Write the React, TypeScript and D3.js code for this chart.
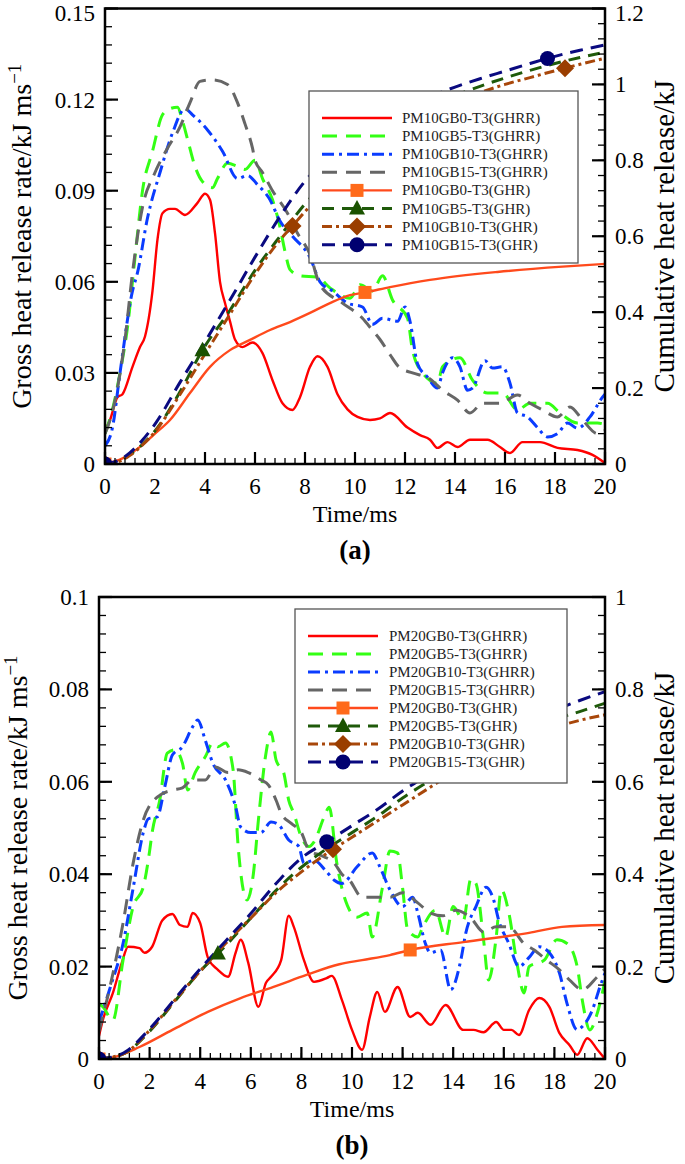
import React from "react";
import * as d3 from "d3";

type P = [number, number];

// ---------- Panel (a): PM10 ----------
const a_rateGB0: P[] = [[0,0.011],[0.2,0.0145],[0.5,0.022],[0.7,0.023],[1.1,0.032],[1.4,0.0385],[1.6,0.042],[1.9,0.057],[2.1,0.074],[2.3,0.0826],[2.6,0.084],[2.8,0.084],[3.2,0.082],[3.7,0.086],[4.0,0.089],[4.2,0.087],[4.4,0.076],[4.6,0.06],[4.8,0.053],[5.0,0.047],[5.2,0.041],[5.5,0.0385],[5.9,0.040],[6.3,0.0365],[6.7,0.0276],[7.1,0.02],[7.5,0.0178],[7.8,0.022],[8.2,0.032],[8.5,0.0355],[8.9,0.032],[9.3,0.023],[9.7,0.018],[10.1,0.0155],[10.6,0.0145],[11.0,0.015],[11.4,0.0168],[12.1,0.012],[12.6,0.0095],[13.0,0.008],[13.3,0.0053],[13.7,0.0072],[14.1,0.0056],[14.6,0.008],[15.3,0.008],[15.8,0.0056],[16.2,0.0036],[16.7,0.0072],[17.4,0.0072],[18.1,0.0053],[18.9,0.0046],[19.5,0.003],[20,0.0003]];
const a_rateGB5: P[] = [[0,0.01],[0.3,0.018],[0.6,0.03],[0.9,0.045],[1.2,0.068],[1.5,0.09],[1.9,0.103],[2.3,0.115],[2.6,0.117],[2.9,0.1175],[3.1,0.113],[3.3,0.107],[3.6,0.098],[3.9,0.093],[4.3,0.091],[4.5,0.094],[4.9,0.099],[5.3,0.098],[5.6,0.097],[6.0,0.1],[6.3,0.094],[6.7,0.087],[7.0,0.078],[7.2,0.07],[7.4,0.064],[7.8,0.062],[8.5,0.0615],[9.0,0.058],[9.8,0.0546],[10.2,0.059],[10.7,0.057],[11.1,0.062],[11.5,0.054],[12.1,0.048],[12.3,0.0375],[12.7,0.030],[13.3,0.0266],[13.5,0.032],[14.2,0.035],[14.7,0.0276],[15.3,0.0234],[15.9,0.0234],[16.5,0.0178],[17.0,0.020],[17.7,0.020],[18.2,0.0168],[18.9,0.0135],[19.7,0.0135],[20,0.013]];
const a_rateGB10: P[] = [[0,0.006],[0.3,0.012],[0.6,0.03],[1.1,0.057],[1.3,0.063],[1.7,0.081],[2.2,0.096],[2.7,0.109],[3.2,0.117],[3.5,0.115],[4.1,0.11],[4.7,0.103],[5.3,0.094],[5.7,0.095],[6.1,0.092],[6.6,0.087],[7.0,0.08],[7.5,0.075],[8.2,0.068],[8.6,0.06],[9.1,0.057],[9.7,0.053],[10.3,0.0517],[10.7,0.046],[11.1,0.048],[11.7,0.047],[12.0,0.0517],[12.2,0.047],[12.5,0.033],[12.9,0.0286],[13.3,0.025],[13.5,0.030],[13.9,0.035],[14.2,0.032],[14.5,0.0243],[14.7,0.025],[15.2,0.034],[15.5,0.0316],[15.9,0.032],[16.2,0.0266],[16.5,0.0168],[16.9,0.0155],[17.3,0.012],[17.7,0.0089],[18.1,0.010],[18.5,0.0135],[18.9,0.0118],[19.4,0.0155],[19.9,0.022],[20,0.023]];
const a_rateGB15: P[] = [[0,0.01],[0.1,0.012],[0.5,0.025],[0.8,0.041],[1.1,0.063],[1.5,0.0846],[2.0,0.096],[2.5,0.104],[3.0,0.111],[3.4,0.119],[3.8,0.126],[4.3,0.1265],[4.9,0.125],[5.3,0.119],[5.6,0.112],[5.9,0.104],[6.0,0.1],[6.3,0.096],[6.7,0.09],[7.3,0.0826],[7.7,0.076],[8.2,0.069],[8.6,0.059],[9.5,0.053],[10.3,0.048],[10.7,0.044],[11.0,0.041],[11.4,0.036],[11.8,0.0316],[12.3,0.030],[13.0,0.028],[13.5,0.0243],[14.1,0.021],[14.6,0.0168],[15.1,0.020],[15.8,0.020],[16.5,0.0227],[17.0,0.020],[17.5,0.0178],[18.1,0.0155],[18.6,0.0188],[19.1,0.0145],[19.7,0.010],[20,0.011]];
const a_cumGB0: P[] = [[0,0],[0.7,0.015],[1.4,0.045],[2.0,0.08],[2.6,0.116],[3.4,0.187],[4.2,0.256],[5.0,0.30],[5.8,0.327],[6.6,0.353],[7.4,0.374],[8.2,0.398],[9.0,0.424],[9.8,0.445],[10.4,0.452],[11.4,0.466],[13,0.485],[15.7,0.506],[18.3,0.52],[20,0.527]];
const a_cumGB5: P[] = [[0,0],[0.5,0.006],[1,0.025],[1.5,0.052],[2,0.087],[3,0.19],[3.9,0.3],[5,0.405],[6,0.51],[7,0.6],[8,0.685],[9,0.755],[10,0.815],[11,0.865],[12,0.905],[13,0.94],[14,0.97],[15,0.995],[16,1.017],[17,1.037],[18,1.055],[19,1.071],[20,1.085]];
const a_cumGB10: P[] = [[0,0],[0.5,0.005],[1,0.023],[1.5,0.05],[2,0.085],[3,0.183],[4,0.29],[5,0.395],[6,0.5],[7,0.59],[7.5,0.627],[8,0.665],[9,0.73],[10,0.79],[11,0.84],[12,0.88],[13,0.915],[14,0.948],[15,0.978],[16,1.0],[17,1.018],[18,1.036],[19,1.053],[20,1.069]];
const a_cumGB15: P[] = [[0,0],[0.5,0.008],[1,0.03],[1.5,0.063],[2,0.105],[3,0.215],[4,0.322],[5,0.432],[6,0.545],[7,0.652],[8,0.745],[9,0.81],[10,0.862],[11,0.905],[12,0.94],[13,0.968],[14,0.993],[15,1.015],[16,1.035],[17,1.055],[18,1.074],[19,1.09],[20,1.104]];
const a_markGB0 = [0, 10.4];
const a_markGB5 = [0, 3.9];
const a_markGB10 = [0, 7.5, 18.4];
const a_markGB15 = [0, 17.7];
const a_leftTicks = [0, 0.03, 0.06, 0.09, 0.12, 0.15];
const a_leftLabels = ["0", "0.03", "0.06", "0.09", "0.12", "0.15"];
const a_rightTicks = [0, 0.2, 0.4, 0.6, 0.8, 1, 1.2];
const a_rightLabels = ["0", "0.2", "0.4", "0.6", "0.8", "1", "1.2"];
const a_names = ["PM10GB0-T3(GHRR)", "PM10GB5-T3(GHRR)", "PM10GB10-T3(GHRR)", "PM10GB15-T3(GHRR)", "PM10GB0-T3(GHR)", "PM10GB5-T3(GHR)", "PM10GB10-T3(GHR)", "PM10GB15-T3(GHR)"];

// ---------- Panel (b): PM20 ----------
const b_rateGB0: P[] = [[0,0.005],[0.15,0.0084],[0.55,0.0143],[0.9,0.0208],[1.15,0.0243],[1.6,0.024],[1.8,0.023],[2.1,0.0243],[2.5,0.030],[2.9,0.0314],[3.2,0.029],[3.5,0.0286],[3.7,0.0316],[4.0,0.0294],[4.3,0.022],[4.7,0.0193],[5.1,0.0178],[5.4,0.023],[5.6,0.0258],[5.9,0.0208],[6.3,0.0113],[6.6,0.0165],[6.8,0.0178],[7.2,0.0214],[7.5,0.031],[7.7,0.0286],[8.1,0.0214],[8.5,0.0167],[9.0,0.0175],[9.2,0.018],[9.6,0.0128],[10.0,0.0063],[10.4,0.002],[10.7,0.009],[11.0,0.0145],[11.3,0.0102],[11.8,0.0156],[12.3,0.0091],[12.6,0.010],[13.1,0.0074],[13.7,0.0117],[14.4,0.0063],[14.8,0.0063],[15.2,0.0058],[15.7,0.008],[16.0,0.0063],[16.3,0.0063],[16.6,0.0052],[17.0,0.0106],[17.4,0.0132],[17.8,0.0113],[18.2,0.0056],[18.6,0.003],[18.9,0.0009],[19.3,0.0045],[19.7,0.002],[20,0]];
const b_rateGB5: P[] = [[0,0.012],[0.15,0.0113],[0.55,0.0084],[0.95,0.0214],[1.35,0.033],[1.75,0.0372],[2.0,0.045],[2.1,0.049],[2.4,0.056],[2.7,0.0662],[3.0,0.0669],[3.3,0.064],[3.5,0.0582],[3.8,0.062],[4.2,0.0654],[4.5,0.0684],[4.7,0.0676],[5.0,0.0684],[5.3,0.0626],[5.5,0.046],[5.85,0.0344],[6.1,0.04],[6.3,0.0517],[6.6,0.0662],[6.8,0.0708],[7.0,0.0647],[7.3,0.062],[7.5,0.056],[7.7,0.0532],[8.0,0.048],[8.3,0.046],[8.5,0.047],[8.9,0.0524],[9.1,0.0545],[9.4,0.0424],[9.7,0.035],[10.2,0.0307],[10.6,0.0316],[10.8,0.0264],[11.2,0.037],[11.5,0.045],[11.8,0.0446],[12.0,0.037],[12.2,0.028],[12.6,0.0264],[12.8,0.0286],[13.3,0.0322],[13.7,0.0264],[14.0,0.033],[14.4,0.030],[14.7,0.039],[14.9,0.038],[15.2,0.0258],[15.4,0.0171],[15.7,0.0264],[15.9,0.0366],[16.2,0.0316],[16.5,0.0214],[16.8,0.0143],[17.0,0.020],[17.6,0.0214],[18.1,0.0258],[18.5,0.025],[18.9,0.020],[19.1,0.0128],[19.4,0.0063],[19.7,0.01],[20,0.017]];
const b_rateGB10: P[] = [[0,0.008],[0.45,0.0156],[0.95,0.025],[1.35,0.037],[1.75,0.049],[1.95,0.052],[2.3,0.0524],[2.6,0.0589],[2.9,0.0658],[3.3,0.0676],[3.7,0.0719],[3.9,0.0734],[4.2,0.069],[4.5,0.064],[5.0,0.0604],[5.4,0.0546],[5.6,0.0502],[6.0,0.049],[6.4,0.049],[6.8,0.0513],[7.1,0.0507],[7.5,0.0474],[7.9,0.046],[8.1,0.0424],[8.5,0.043],[9.0,0.0405],[9.3,0.0387],[9.6,0.038],[10.2,0.0416],[10.8,0.0446],[11.1,0.0416],[11.5,0.0366],[12.0,0.033],[12.4,0.035],[12.6,0.0316],[12.9,0.025],[13.1,0.023],[13.5,0.0236],[13.9,0.015],[14.3,0.0214],[14.5,0.0273],[14.9,0.033],[15.3,0.0372],[15.6,0.0344],[15.8,0.030],[16.2,0.025],[16.6,0.020],[17.0,0.022],[17.4,0.0243],[17.8,0.023],[18.2,0.0186],[18.5,0.012],[18.9,0.0063],[19.1,0.007],[19.5,0.0106],[19.8,0.0156],[20,0.0186]];
const b_rateGB15: P[] = [[0,0.006],[0.45,0.016],[0.95,0.0294],[1.35,0.0424],[1.75,0.0517],[2.3,0.0567],[2.9,0.0582],[3.3,0.0587],[3.7,0.0604],[4.2,0.0604],[4.6,0.0632],[5.1,0.062],[5.5,0.0626],[5.9,0.062],[6.4,0.0604],[6.7,0.0593],[7.0,0.056],[7.2,0.0532],[7.6,0.051],[8.0,0.049],[8.3,0.0452],[8.8,0.044],[9.3,0.0424],[9.6,0.040],[9.9,0.0387],[10.4,0.035],[11.0,0.035],[11.5,0.035],[12.0,0.036],[12.6,0.0338],[13.1,0.0316],[13.6,0.031],[14.1,0.0322],[14.7,0.0305],[15.2,0.0275],[15.7,0.0286],[16.2,0.0286],[16.8,0.025],[17.2,0.0236],[17.7,0.0214],[18.2,0.0193],[18.6,0.0171],[19.1,0.015],[19.7,0.0178],[20,0.0195]];
const b_cumGB0: P[] = [[0,0],[0.5,0.003],[1.6,0.026],[2.9,0.063],[4.3,0.102],[5.6,0.132],[6.9,0.156],[8.2,0.182],[9.5,0.205],[10.4,0.214],[11.5,0.225],[12.3,0.236],[14.4,0.253],[17,0.273],[18.3,0.286],[20,0.29]];
const b_cumGB5: P[] = [[0,0],[0.5,0.004],[1,0.012],[2,0.06],[3,0.125],[4,0.19],[5,0.245],[6,0.305],[7,0.365],[8,0.415],[9,0.455],[10,0.49],[11,0.525],[12,0.565],[13,0.6],[14,0.635],[15,0.665],[16,0.69],[17,0.715],[18,0.735],[19,0.752],[20,0.77]];
const b_cumGB10: P[] = [[0,0],[0.5,0.004],[1,0.012],[2,0.062],[3,0.127],[4,0.19],[5,0.25],[6,0.305],[7,0.36],[8,0.405],[9,0.445],[10,0.48],[11,0.515],[12,0.55],[13,0.585],[14,0.62],[15,0.65],[16,0.675],[17,0.7],[18,0.718],[19,0.733],[20,0.745]];
const b_cumGB15: P[] = [[0,0],[0.5,0.004],[1,0.014],[2,0.065],[3,0.13],[4,0.195],[5,0.255],[6,0.315],[7,0.38],[8,0.435],[9,0.47],[10,0.505],[11,0.54],[12,0.58],[13,0.615],[14,0.65],[15,0.68],[16,0.71],[17,0.735],[18,0.755],[19,0.776],[20,0.795]];
const b_markGB0 = [0, 12.3];
const b_markGB5 = [0, 4.7];
const b_markGB10 = [0, 9.25];
const b_markGB15 = [0, 9];
const b_leftTicks = [0, 0.02, 0.04, 0.06, 0.08, 0.1];
const b_leftLabels = ["0", "0.02", "0.04", "0.06", "0.08", "0.1"];
const b_rightTicks = [0, 0.2, 0.4, 0.6, 0.8, 1];
const b_rightLabels = ["0", "0.2", "0.4", "0.6", "0.8", "1"];
const b_names = ["PM20GB0-T3(GHRR)", "PM20GB5-T3(GHRR)", "PM20GB10-T3(GHRR)", "PM20GB15-T3(GHRR)", "PM20GB0-T3(GHR)", "PM20GB5-T3(GHR)", "PM20GB10-T3(GHR)", "PM20GB15-T3(GHR)"];

const xTicks = [0, 2, 4, 6, 8, 10, 12, 14, 16, 18, 20];

// ---------- styles ----------
const STY = [
  { color: "#ff0000", dash: "", width: 2.4, marker: "" },
  { color: "#33ff14", dash: "15 9", width: 3, marker: "" },
  { color: "#0a3cff", dash: "12 5 3 5", width: 3, marker: "" },
  { color: "#666666", dash: "15 9", width: 3, marker: "" },
  { color: "#ff4a1c", dash: "", width: 2.4, marker: "square" },
  { color: "#1f5a0a", dash: "12 8", width: 3, marker: "triangle" },
  { color: "#a8470a", dash: "10 4 3 4", width: 3, marker: "diamond" },
  { color: "#0a0a80", dash: "13 8", width: 3, marker: "circle" },
];
const MCOL = ["", "", "", "", "#ff6a1a", "#1a5200", "#9a3e00", "#000070"];
const FONT = "Liberation Serif, Times New Roman, serif";

function interp(s: P[], t: number): number {
  for (let i = 1; i < s.length; i++) {
    if (t <= s[i][0]) {
      const [t0, v0] = s[i - 1];
      const [t1, v1] = s[i];
      return v0 + ((t - t0) / (t1 - t0)) * (v1 - v0);
    }
  }
  return s[s.length - 1][1];
}

function Marker({ kind, x, y, color }: { kind: string; x: number; y: number; color: string }) {
  if (kind === "square") return <rect x={x - 6.5} y={y - 6.5} width={13} height={13} fill={color} />;
  if (kind === "triangle") return <path d={`M${x},${y - 8.5}L${x + 8},${y + 6}L${x - 8},${y + 6}Z`} fill={color} />;
  if (kind === "diamond") return <path d={`M${x},${y - 9}L${x + 9},${y}L${x},${y + 9}L${x - 9},${y}Z`} fill={color} />;
  if (kind === "circle") return <circle cx={x} cy={y} r={7.5} fill={color} />;
  return null;
}

type PanelProps = {
  box: { l: number; r: number; t: number; b: number };
  yMax: number; y2Max: number; yMinor: number; y2Minor: number;
  rates: P[][]; cums: P[][]; marks: number[][];
  leftTicks: number[]; leftLabels: string[]; rightTicks: number[]; rightLabels: string[];
  names: string[];
  legend: { l: number; t: number; r: number; b: number; row0: number; dy: number; s0: number; s1: number; tx: number };
  label: string;
  leftTitleX: number; rightTitleX: number;
};

function Panel(p: PanelProps) {
  const { box } = p;
  const xs = d3.scaleLinear().domain([0, 20]).range([box.l, box.r]);
  const ys = d3.scaleLinear().domain([0, p.yMax]).range([box.b, box.t]);
  const ys2 = d3.scaleLinear().domain([0, p.y2Max]).range([box.b, box.t]);
  const line1 = d3.line<P>().x((d) => xs(d[0])).y((d) => ys(d[1])).curve(d3.curveMonotoneX);
  const line2 = d3.line<P>().x((d) => xs(d[0])).y((d) => ys2(d[1])).curve(d3.curveMonotoneX);
  const xMinor = d3.range(0, 20.0001, 0.4);
  const yMinor = d3.range(0, p.yMax + 1e-9, p.yMinor);
  const y2Minor = d3.range(0, p.y2Max + 1e-9, p.y2Minor);
  const midY = (box.t + box.b) / 2;
  const lg = p.legend;
  const clipId = "clip" + p.label.replace(/\W/g, "");
  const labelY = (y: number) => Math.max(y + 8, 21);
  return (
    <g>
      <defs>
        <clipPath id={clipId}>
          <rect x={box.l} y={box.t} width={box.r - box.l} height={box.b - box.t} />
        </clipPath>
      </defs>
      <g clipPath={`url(#${clipId})`}>
        {p.rates.map((s, i) => (
          <path key={"r" + i} d={line1(s) || ""} fill="none" stroke={STY[i].color} strokeWidth={STY[i].width} strokeDasharray={STY[i].dash || undefined} />
        ))}
        {p.cums.map((s, i) => (
          <path key={"c" + i} d={line2(s) || ""} fill="none" stroke={STY[i + 4].color} strokeWidth={STY[i + 4].width} strokeDasharray={STY[i + 4].dash || undefined} />
        ))}
        {p.cums.map((s, i) =>
          p.marks[i].map((t, j) => (
            <Marker key={"m" + i + "-" + j} kind={STY[i + 4].marker} x={xs(t)} y={ys2(interp(s, t))} color={MCOL[i + 4]} />
          ))
        )}
      </g>
      {/* ticks */}
      {xMinor.map((t, i) => (
        <line key={"xm" + i} x1={xs(t)} x2={xs(t)} y1={box.b} y2={box.b - 6} stroke="#000" strokeWidth={1.3} />
      ))}
      {xTicks.map((t, i) => (
        <line key={"xM" + i} x1={xs(t)} x2={xs(t)} y1={box.b} y2={box.b - 12} stroke="#000" strokeWidth={2.2} />
      ))}
      {yMinor.map((v, i) => (
        <line key={"ym" + i} x1={box.l} x2={box.l + 7} y1={ys(v)} y2={ys(v)} stroke="#000" strokeWidth={1.3} />
      ))}
      {p.leftTicks.map((v, i) => (
        <line key={"yM" + i} x1={box.l} x2={box.l + 13} y1={ys(v)} y2={ys(v)} stroke="#000" strokeWidth={2.2} />
      ))}
      {y2Minor.map((v, i) => (
        <line key={"y2m" + i} x1={box.r} x2={box.r - 7} y1={ys2(v)} y2={ys2(v)} stroke="#000" strokeWidth={1.3} />
      ))}
      {p.rightTicks.map((v, i) => (
        <line key={"y2M" + i} x1={box.r} x2={box.r - 13} y1={ys2(v)} y2={ys2(v)} stroke="#000" strokeWidth={2.2} />
      ))}
      <rect x={box.l} y={box.t} width={box.r - box.l} height={box.b - box.t} fill="none" stroke="#000" strokeWidth={2.5} />
      {/* tick labels */}
      {xTicks.map((t, i) => (
        <text key={"xl" + i} x={xs(t)} y={box.b + 30} textAnchor="middle" fontSize={23} fontFamily={FONT}>{String(t)}</text>
      ))}
      {p.leftTicks.map((v, i) => (
        <text key={"yl" + i} x={box.l - 10} y={labelY(ys(v))} textAnchor="end" fontSize={23} fontFamily={FONT}>{p.leftLabels[i]}</text>
      ))}
      {p.rightTicks.map((v, i) => (
        <text key={"y2l" + i} x={box.r + 10} y={labelY(ys2(v))} textAnchor="start" fontSize={23} fontFamily={FONT}>{p.rightLabels[i]}</text>
      ))}
      {/* titles */}
      <text x={(box.l + box.r) / 2} y={box.b + 58} textAnchor="middle" fontSize={24} fontFamily={FONT}>Time/ms</text>
      <text x={(box.l + box.r) / 2} y={box.b + 95} textAnchor="middle" fontSize={27} fontWeight="bold" fontFamily={FONT}>{p.label}</text>
      <text transform={`translate(${p.leftTitleX},${midY}) rotate(-90)`} textAnchor="middle" fontSize={28} fontFamily={FONT}>
        Gross heat release rate/kJ ms<tspan dy={-10} fontSize={19}>−1</tspan>
      </text>
      <text transform={`translate(${p.rightTitleX},${midY}) rotate(-90)`} textAnchor="middle" fontSize={29} fontFamily={FONT}>
        Cumulative heat release/kJ
      </text>
      {/* legend */}
      <rect x={lg.l} y={lg.t} width={lg.r - lg.l} height={lg.b - lg.t} fill="#fff" stroke="#555" strokeWidth={1.3} />
      {p.names.map((n, i) => {
        const y = lg.row0 + i * lg.dy;
        const st = STY[i];
        return (
          <g key={"lg" + i}>
            <line x1={lg.s0} x2={lg.s1} y1={y} y2={y} stroke={st.color} strokeWidth={st.width} strokeDasharray={st.dash || undefined} />
            {st.marker && <Marker kind={st.marker} x={(lg.s0 + lg.s1) / 2} y={y} color={MCOL[i]} />}
            <text x={lg.tx} y={y + 5} fontSize={15} fontFamily={FONT} fill="#222">{n}</text>
          </g>
        );
      })}
    </g>
  );
}

export default function App() {
  return (
    <svg width={685} height={1164} style={{ position: "absolute", left: 0, top: 0, background: "#fff" }}>
      <rect x={0} y={0} width={685} height={1164} fill="#fff" />
      <Panel
        box={{ l: 105, r: 605, t: 8.5, b: 464 }}
        yMax={0.15} y2Max={1.2} yMinor={0.006} y2Minor={0.04}
        rates={[a_rateGB0, a_rateGB5, a_rateGB10, a_rateGB15]}
        cums={[a_cumGB0, a_cumGB5, a_cumGB10, a_cumGB15]}
        marks={[a_markGB0, a_markGB5, a_markGB10, a_markGB15]}
        leftTicks={a_leftTicks} leftLabels={a_leftLabels}
        rightTicks={a_rightTicks} rightLabels={a_rightLabels}
        names={a_names}
        legend={{ l: 309, t: 91, r: 578, b: 263, row0: 118, dy: 18.1, s0: 322, s1: 392, tx: 402 }}
        label="(a)" leftTitleX={31} rightTitleX={674}
      />
      <Panel
        box={{ l: 99, r: 605, t: 597, b: 1059 }}
        yMax={0.1} y2Max={1.0} yMinor={0.004} y2Minor={0.04}
        rates={[b_rateGB0, b_rateGB5, b_rateGB10, b_rateGB15]}
        cums={[b_cumGB0, b_cumGB5, b_cumGB10, b_cumGB15]}
        marks={[b_markGB0, b_markGB5, b_markGB10, b_markGB15]}
        leftTicks={b_leftTicks} leftLabels={b_leftLabels}
        rightTicks={b_rightTicks} rightLabels={b_rightLabels}
        names={b_names}
        legend={{ l: 295, t: 609, r: 567, b: 783, row0: 636, dy: 18, s0: 308, s1: 378, tx: 389 }}
        label="(b)" leftTitleX={27} rightTitleX={674}
      />
    </svg>
  );
}
